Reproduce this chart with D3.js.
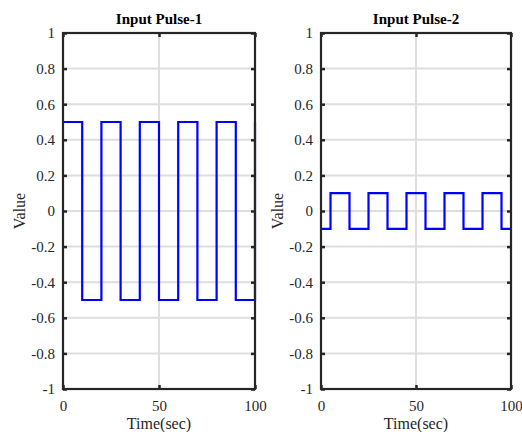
<!DOCTYPE html>
<html>
<head>
<meta charset="utf-8">
<script src="https://cdn.jsdelivr.net/npm/d3@7"></script>
<style>
  html, body { margin: 0; padding: 0; background: #fff; }
  svg { display: block; }
</style>
</head>
<body>
<svg id="chart" width="522" height="432"></svg>
<script>
// Pulse trains: breakpoint times (sec) and the level held from each breakpoint on
const pulse1Times  = [0, 10, 20, 30, 40, 50, 60, 70, 80, 90, 100];
const pulse1Values = [0.5, -0.5, 0.5, -0.5, 0.5, -0.5, 0.5, -0.5, 0.5, -0.5, 0.5];
const pulse2Times  = [0, 5, 15, 25, 35, 45, 55, 65, 75, 85, 95, 100];
const pulse2Values = [-0.1, 0.1, -0.1, 0.1, -0.1, 0.1, -0.1, 0.1, -0.1, 0.1, -0.1, -0.1];

const titles = ["Input Pulse-1", "Input Pulse-2"];
const xTicks = [0, 50, 100];
const yTicks = [-1, -0.8, -0.6, -0.4, -0.2, 0, 0.2, 0.4, 0.6, 0.8, 1];
const xLabel = "Time(sec)";
const yLabel = "Value";

const FONT = "'Liberation Serif', 'Times New Roman', serif";
const INK = "#262626";

const svg = d3.select("#chart");

const panels = [
  { title: titles[0], times: pulse1Times, values: pulse1Values, left: 63, right: 255, yLabelX: 25 },
  { title: titles[1], times: pulse2Times, values: pulse2Values, left: 321, right: 511, yLabelX: 283 }
];
const plotTop = 33, plotBottom = 389;

panels.forEach(p => {
  const x = d3.scaleLinear().domain([0, 100]).range([p.left, p.right]);
  const y = d3.scaleLinear().domain([-1, 1]).range([plotBottom, plotTop]);
  const g = svg.append("g");

  // grid lines
  g.append("g").selectAll("line").data(yTicks.filter(v => v > -1 && v < 1)).join("line")
    .attr("x1", p.left).attr("x2", p.right)
    .attr("y1", d => y(d)).attr("y2", d => y(d))
    .attr("stroke", "#dedede").attr("stroke-width", 2);
  g.append("g").selectAll("line").data(xTicks.filter(v => v > 0 && v < 100)).join("line")
    .attr("y1", plotTop).attr("y2", plotBottom)
    .attr("x1", d => x(d)).attr("x2", d => x(d))
    .attr("stroke", "#dedede").attr("stroke-width", 2);

  // signal
  const pts = p.times.map((t, i) => [t, p.values[i]]);
  g.append("path")
    .datum(pts)
    .attr("fill", "none")
    .attr("stroke", "#0000ff")
    .attr("stroke-width", 2.2)
    .attr("d", d3.line().x(d => x(d[0])).y(d => y(d[1])).curve(d3.curveStepAfter));

  // axes with inward ticks on all four sides
  const tickLen = 4;
  const fmt = d => (d === 0 ? "0" : String(d));
  const axL = g.append("g").attr("transform", `translate(${p.left},0)`)
    .call(d3.axisLeft(y).tickValues(yTicks).tickSize(-tickLen).tickPadding(8).tickFormat(fmt));
  const axR = g.append("g").attr("transform", `translate(${p.right},0)`)
    .call(d3.axisRight(y).tickValues(yTicks).tickSize(-tickLen).tickFormat(""));
  const axB = g.append("g").attr("transform", `translate(0,${plotBottom})`)
    .call(d3.axisBottom(x).tickValues(xTicks).tickSize(-tickLen).tickPadding(11).tickFormat(d3.format("d")));
  const axT = g.append("g").attr("transform", `translate(0,${plotTop})`)
    .call(d3.axisTop(x).tickValues(xTicks).tickSize(-tickLen).tickFormat(""));

  [axL, axR, axB, axT].forEach(a => {
    a.select(".domain").remove();
    a.selectAll(".tick line").attr("stroke", INK).attr("stroke-width", 2.5);
    a.selectAll(".tick text")
      .style("font-size", "15px").style("font-family", FONT).style("fill", INK);
  });

  // box
  g.append("rect")
    .attr("x", p.left).attr("y", plotTop)
    .attr("width", p.right - p.left).attr("height", plotBottom - plotTop)
    .attr("fill", "none").attr("stroke", INK).attr("stroke-width", 2.2);

  // title
  g.append("text")
    .attr("x", (p.left + p.right) / 2).attr("y", 24)
    .attr("text-anchor", "middle")
    .style("font-family", FONT).style("font-size", "15px").style("font-weight", "bold")
    .style("fill", "#000")
    .text(p.title);

  // x label
  g.append("text")
    .attr("x", (p.left + p.right) / 2).attr("y", 429)
    .attr("text-anchor", "middle")
    .style("font-family", FONT).style("font-size", "16px").style("fill", INK)
    .text(xLabel);

  // y label
  g.append("text")
    .attr("transform", `translate(${p.yLabelX},${(plotTop + plotBottom) / 2}) rotate(-90)`)
    .attr("text-anchor", "middle")
    .style("font-family", FONT).style("font-size", "16px").style("fill", INK)
    .text(yLabel);
});
</script>
</body>
</html>
